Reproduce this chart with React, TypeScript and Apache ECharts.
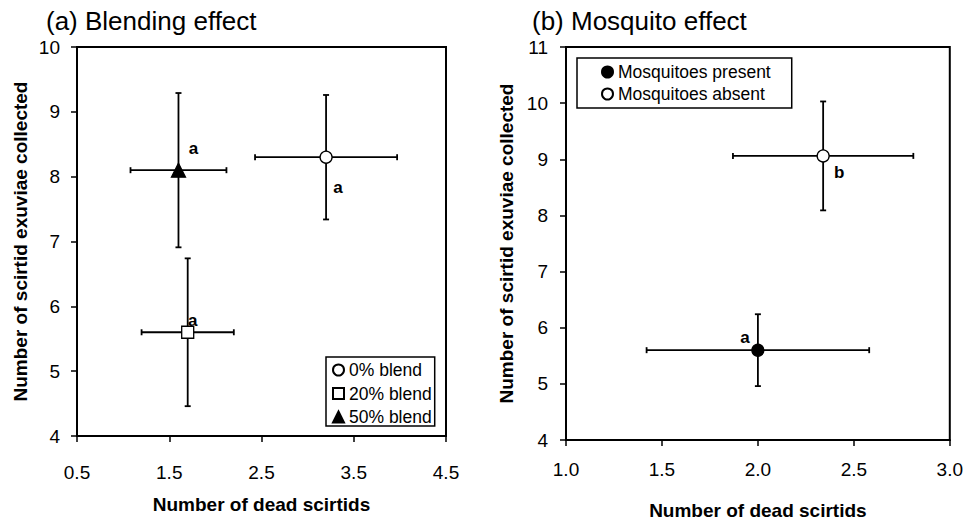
import React, { useEffect, useRef } from "react";
import * as echarts from "echarts";

// Panel (a): blend treatments
const blendNames = ["0% blend", "20% blend", "50% blend"];
const blendX = [3.2, 1.7, 1.6];
const blendXErr = [0.77, 0.5, 0.52];
const blendY = [8.3, 5.6, 8.1];
const blendYErr = [0.96, 1.14, 1.19];
const blendLetters = ["a", "a", "a"];

// Panel (b): mosquito treatments
const mosqNames = ["Mosquitoes present", "Mosquitoes absent"];
const mosqX = [2.0, 2.34];
const mosqXErr = [0.58, 0.47];
const mosqY = [5.6, 9.06];
const mosqYErr = [0.64, 0.97];
const mosqLetters = ["a", "b"];

const xTitle = "Number of dead scirtids";
const yTitle = "Number of scirtid exuviae collected";

const FONT = 'Arial, "Liberation Sans", Helvetica, sans-serif';
const INK = "#000";

const errorBarRenderer = (params: any, api: any) => {
  const x = api.value(0);
  const y = api.value(1);
  const ex = api.value(2);
  const ey = api.value(3);
  const l = api.coord([x - ex, y]);
  const r = api.coord([x + ex, y]);
  const t = api.coord([x, y + ey]);
  const b = api.coord([x, y - ey]);
  const cap = 3;
  const style = { stroke: INK, lineWidth: 1.8 };
  const seg = (x1: number, y1: number, x2: number, y2: number) => ({
    type: "line",
    shape: { x1, y1, x2, y2 },
    style,
  });
  return {
    type: "group",
    children: [
      seg(l[0], l[1], r[0], r[1]),
      seg(t[0], t[1], b[0], b[1]),
      seg(l[0], l[1] - cap, l[0], l[1] + cap),
      seg(r[0], r[1] - cap, r[0], r[1] + cap),
      seg(t[0] - cap, t[1], t[0] + cap, t[1]),
      seg(b[0] - cap, b[1], b[0] + cap, b[1]),
    ],
  };
};

const axisLine = { show: true, onZero: false, lineStyle: { color: INK, width: 2 } };
const axisTick = { show: true, inside: false, length: 6, lineStyle: { color: INK, width: 1.5 } };
const tickFont = { fontSize: 19, color: INK, fontFamily: FONT };
const nameFont = { fontSize: 19, fontWeight: "bold" as const, color: INK, fontFamily: FONT };

export default function App() {
  const ref = useRef<HTMLDivElement>(null);

  useEffect(() => {
    if (!ref.current) return;
    const chart = echarts.init(ref.current, null, { renderer: "svg" });

    const blendSymbols = ["circle", "rect", "triangle"];
    const blendFill = ["#fff", "#fff", INK];
    const blendSize = [12, 12, 14];
    const blendLabelOffset = [
      [12, 30],
      [5, -12],
      [15, -22],
    ];

    const mosqFill = [INK, "#fff"];
    const mosqLabelOffset = [
      [-13, -13],
      [16, 17],
    ];

    const letterStyle = {
      show: true,
      position: "inside",
      fontSize: 17,
      fontWeight: "bold",
      color: INK,
      fontFamily: FONT,
    };

    const blendScatter = blendNames.map((name, i) => ({
      name,
      type: "scatter",
      xAxisIndex: 0,
      yAxisIndex: 0,
      symbol: blendSymbols[i],
      symbolSize: blendSize[i],
      itemStyle: { color: blendFill[i], borderColor: INK, borderWidth: 1.3, opacity: 1 },
      label: { ...letterStyle, formatter: blendLetters[i], offset: blendLabelOffset[i] },
      z: 5,
      data: [[blendX[i], blendY[i]]],
    }));

    const mosqScatter = mosqNames.map((name, i) => ({
      name,
      type: "scatter",
      xAxisIndex: 1,
      yAxisIndex: 1,
      symbol: "circle",
      symbolSize: 12,
      itemStyle: { color: mosqFill[i], borderColor: INK, borderWidth: 1.3, opacity: 1 },
      label: { ...letterStyle, formatter: mosqLetters[i], offset: mosqLabelOffset[i] },
      z: 5,
      data: [[mosqX[i], mosqY[i]]],
    }));

    const legendBase = {
      orient: "vertical",
      selectedMode: false,
      backgroundColor: "#fff",
      borderColor: INK,
      borderWidth: 1.5,
      borderRadius: 0,
      itemWidth: 11,
      itemHeight: 11,
      textStyle: { fontSize: 17.5, color: INK, fontFamily: FONT },
    };

    chart.setOption({
      animation: false,
      backgroundColor: "#fff",
      textStyle: { fontFamily: FONT },
      title: [
        {
          text: "(a) Blending effect",
          left: 46,
          top: 8,
          padding: 0,
          textStyle: { fontSize: 26, fontWeight: "normal", color: INK, fontFamily: FONT },
        },
        {
          text: "(b) Mosquito effect",
          left: 532,
          top: 8,
          padding: 0,
          textStyle: { fontSize: 26, fontWeight: "normal", color: INK, fontFamily: FONT },
        },
      ],
      legend: [
        {
          ...legendBase,
          data: blendNames,
          left: 326,
          top: 357,
          padding: [4, 3, 0, 6],
          itemGap: 5.5,
        },
        {
          ...legendBase,
          data: mosqNames,
          left: 577,
          top: 58,
          padding: [5, 21, 5, 24],
          itemGap: 4,
        },
      ],
      grid: [
        {
          left: 77,
          top: 47,
          width: 369,
          height: 389,
          show: true,
          borderColor: INK,
          borderWidth: 2,
          backgroundColor: "#fff",
        },
        {
          left: 566,
          top: 47,
          width: 386,
          height: 398,
          show: true,
          borderColor: INK,
          borderWidth: 2,
          backgroundColor: "#fff",
        },
      ],
      xAxis: [
        {
          gridIndex: 0,
          type: "value",
          min: 0.5,
          max: 4.5,
          interval: 1,
          axisLine,
          axisTick,
          splitLine: { show: false },
          axisLabel: { ...tickFont, margin: 27, formatter: (v: number) => v.toFixed(1) },
          name: xTitle,
          nameLocation: "middle",
          nameGap: 59,
          nameTextStyle: nameFont,
        },
        {
          gridIndex: 1,
          type: "value",
          min: 1,
          max: 3,
          interval: 0.5,
          axisLine,
          axisTick,
          splitLine: { show: false },
          axisLabel: { ...tickFont, margin: 20, formatter: (v: number) => v.toFixed(1) },
          name: xTitle,
          nameLocation: "middle",
          nameGap: 61,
          nameTextStyle: nameFont,
        },
      ],
      yAxis: [
        {
          gridIndex: 0,
          type: "value",
          min: 4,
          max: 10,
          interval: 1,
          axisLine,
          axisTick,
          splitLine: { show: false },
          axisLabel: { ...tickFont, margin: 17 },
          name: yTitle,
          nameLocation: "middle",
          nameGap: 47,
          nameTextStyle: nameFont,
        },
        {
          gridIndex: 1,
          type: "value",
          min: 4,
          max: 11,
          interval: 1,
          axisLine,
          axisTick,
          splitLine: { show: false },
          axisLabel: { ...tickFont, margin: 18 },
          name: yTitle,
          nameLocation: "middle",
          nameGap: 50,
          nameTextStyle: nameFont,
        },
      ],
      series: [
        {
          type: "custom",
          name: "blend error bars",
          xAxisIndex: 0,
          yAxisIndex: 0,
          silent: true,
          z: 2,
          renderItem: errorBarRenderer,
          encode: { x: 0, y: 1 },
          data: blendX.map((x, i) => [x, blendY[i], blendXErr[i], blendYErr[i]]),
        },
        {
          type: "custom",
          name: "mosquito error bars",
          xAxisIndex: 1,
          yAxisIndex: 1,
          silent: true,
          z: 2,
          renderItem: errorBarRenderer,
          encode: { x: 0, y: 1 },
          data: mosqX.map((x, i) => [x, mosqY[i], mosqXErr[i], mosqYErr[i]]),
        },
        ...blendScatter,
        ...mosqScatter,
      ],
    });

    return () => chart.dispose();
  }, []);

  return (
    <div
      ref={ref}
      style={{ position: "fixed", left: 0, top: 0, width: 966, height: 525, background: "#fff" }}
    />
  );
}
